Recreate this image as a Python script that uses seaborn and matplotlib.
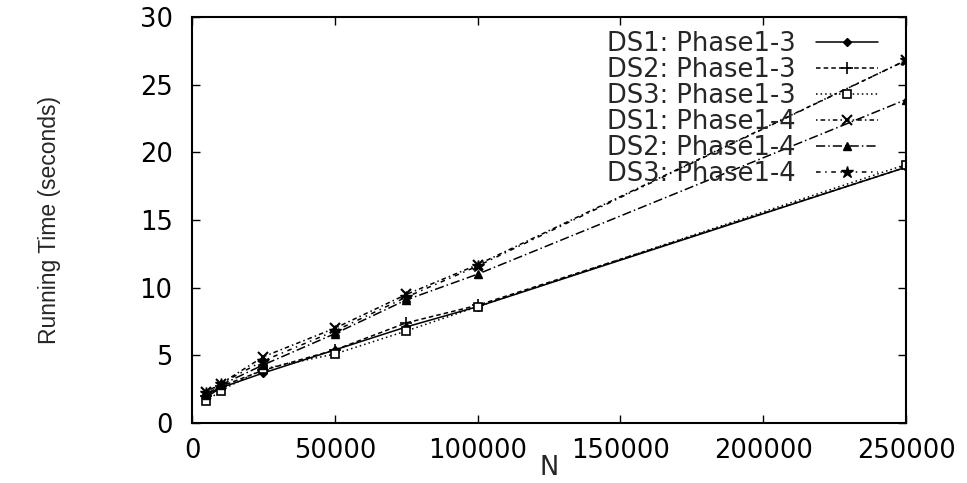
import pandas as pd
import matplotlib
matplotlib.use('Agg')
import matplotlib.pyplot as plt
import seaborn as sns

# datos
n_vals = [5000, 10000, 25000, 50000, 75000, 100000, 250000]
ds1_p13 = [1.9, 2.6, 3.7, 5.4, 7.1, 8.6, 18.9]
ds2_p13 = [2.0, 2.7, 3.9, 5.4, 7.4, 8.7, 18.9]
ds3_p13 = [1.6, 2.4, 4.0, 5.1, 6.8, 8.6, 19.1]
ds1_p14 = [2.3, 2.9, 4.9, 7.0, 9.5, 11.7, 26.8]
ds2_p14 = [2.1, 2.8, 4.3, 6.6, 9.1, 11.0, 23.9]
ds3_p14 = [2.2, 2.9, 4.6, 6.8, 9.3, 11.6, 26.8]

labels = ['DS1: Phase1-3', 'DS2: Phase1-3', 'DS3: Phase1-3',
          'DS1: Phase1-4', 'DS2: Phase1-4', 'DS3: Phase1-4']
series = [ds1_p13, ds2_p13, ds3_p13, ds1_p14, ds2_p14, ds3_p14]

rows = []
for lab, vals in zip(labels, series):
    for n, v in zip(n_vals, vals):
        rows.append({'N': n, 'time': v, 'serie': lab})
df = pd.DataFrame(rows)

sns.set_style('ticks')
plt.rcParams['font.family'] = ['DejaVu Sans']

estilos = [
    dict(ls='-', marker='D', ms=4, mfc='black'),
    dict(ls=(0, (3, 2)), marker='+', ms=8, mew=1.2),
    dict(ls=(0, (1, 2)), marker='s', ms=6, mfc='white', mew=1.2),
    dict(ls=(0, (1, 2, 3, 2)), marker='x', ms=7, mew=1.5),
    dict(ls=(0, (6, 2, 1, 2)), marker='^', ms=6, mfc='black'),
    dict(ls=(0, (3, 3, 1, 3)), marker='*', ms=9, mfc='black'),
]

fig, ax = plt.subplots(figsize=(9.67, 4.83), dpi=100)
for lab, est in zip(labels, estilos):
    sub = df[df['serie'] == lab]
    sns.lineplot(data=sub, x='N', y='time', ax=ax, color='black', lw=1.1,
                 linestyle=est['ls'], marker=est['marker'], markersize=est['ms'],
                 markerfacecolor=est.get('mfc', 'black'), markeredgecolor='black',
                 markeredgewidth=est.get('mew', 1.0), label=lab)

ax.set_xlim(0, 250000)
ax.set_ylim(0, 30)
ax.set_xticks([0, 50000, 100000, 150000, 200000, 250000])
ax.set_yticks([0, 5, 10, 15, 20, 25, 30])
ax.tick_params(direction='in', top=True, right=True, labelsize=18.5, length=6,
               width=1, colors='black')
ax.tick_params(axis='x', pad=10.5)
ax.tick_params(axis='y', pad=14)
for s in ax.spines.values():
    s.set_linewidth(1.5)
    s.set_color('black')

ax.set_xlabel('N', fontsize=18.5)
ax.xaxis.set_label_coords(0.5, -0.079)
ax.set_ylabel('Running Time (seconds)', fontsize=16.5, family='Liberation Sans')
ax.yaxis.set_label_coords(-0.184, 0.5)

ax.legend(loc='upper right', bbox_to_anchor=(0.975, 0.992), frameon=False,
          markerfirst=False, fontsize=18.5, labelspacing=0.0,
          handlelength=2.4, borderaxespad=0.0, handletextpad=0.8)

fig.subplots_adjust(left=0.1986, right=0.937, top=0.9648, bottom=0.1242)
fig.savefig('out.png', dpi=100)
